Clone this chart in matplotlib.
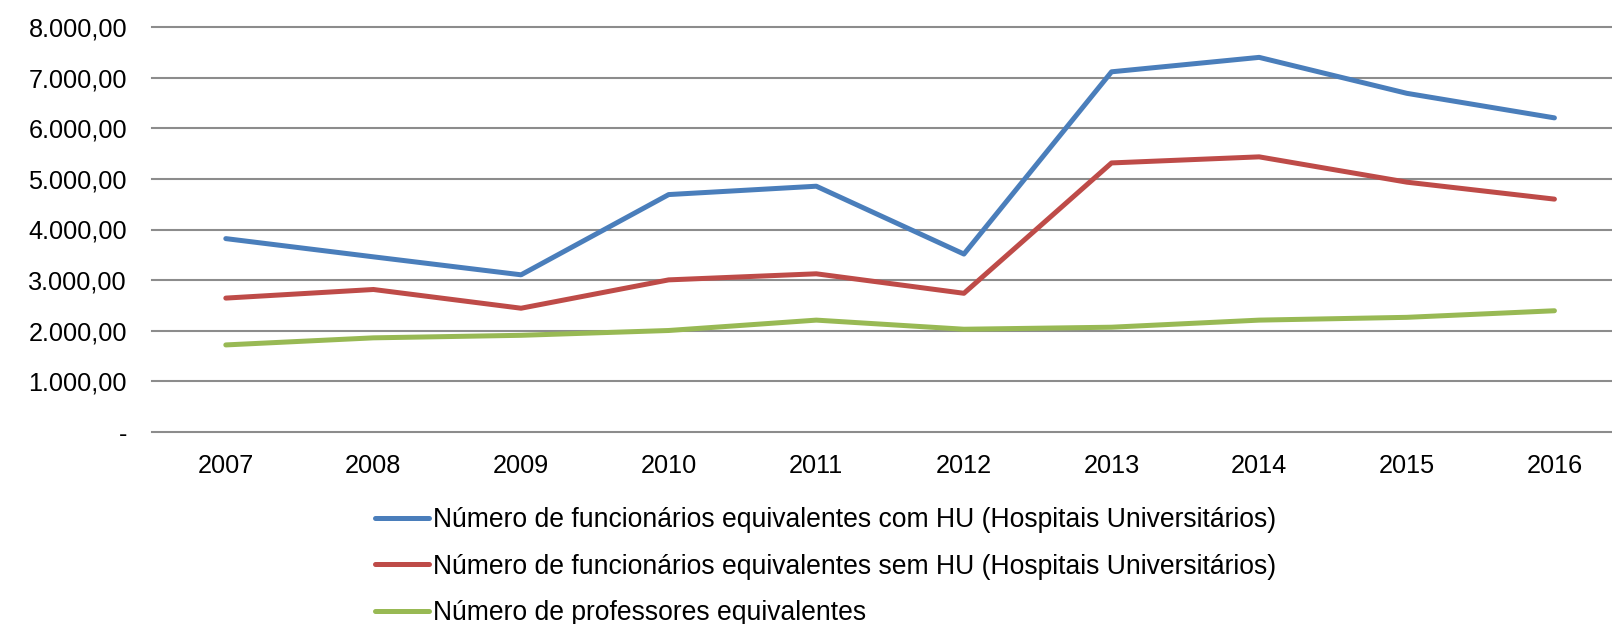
import numpy as np
import matplotlib
matplotlib.use('Agg')
import matplotlib.pyplot as plt
from matplotlib.ticker import FuncFormatter

plt.rcParams.update({'font.family': 'Liberation Sans'})

anos = ['2007', '2008', '2009', '2010', '2011', '2012', '2013', '2014', '2015', '2016']
func_com_hu = [3820, 3460, 3105, 4690, 4855, 3515, 7115, 7400, 6690, 6205]
func_sem_hu = [2645, 2815, 2445, 3005, 3125, 2740, 5315, 5435, 4935, 4600]
professores = [1720, 1860, 1910, 2005, 2210, 2030, 2070, 2210, 2265, 2395]

labels = ['Número de funcionários equivalentes com HU (Hospitais Universitários)',
          'Número de funcionários equivalentes sem HU (Hospitais Universitários)',
          'Número de professores equivalentes']
cores = ['#4A7EBB', '#BE4B48', '#98B954']


def fmt_br(v, pos):
    if v == 0:
        return '-'
    s = f'{v:,.2f}'
    return s.replace(',', 'X').replace('.', ',').replace('X', '.')


fig = plt.figure(figsize=(16.12, 6.24), dpi=100)
ax = fig.add_axes([152 / 1612, 1 - 432 / 624, (1612 - 152) / 1612, 405 / 624])

x = np.arange(len(anos))
for serie, cor, lab in zip([func_com_hu, func_sem_hu, professores], cores, labels):
    ax.plot(x, serie, color=cor, lw=3.6, label=lab, solid_capstyle='round', solid_joinstyle='round')

ax.set_xlim(-0.5, 9.39)
ax.set_ylim(0, 8000)
ax.set_yticks(np.arange(0, 8001, 1000))
ax.yaxis.set_major_formatter(FuncFormatter(fmt_br))
ax.set_xticks(x)
ax.set_xticklabels(anos)
ax.grid(axis='y', color='#8c8c8c', lw=1.5)
ax.set_axisbelow(True)
for s in ax.spines.values():
    s.set_visible(False)
ax.tick_params(axis='both', length=0, labelsize=18.2, colors='#000000')
ax.tick_params(axis='y', pad=18)
ax.tick_params(axis='x', pad=16)
for gl in ax.get_ygridlines():
    gl.set_clip_on(False)

fig.legend(loc='upper left', bbox_to_anchor=(375 / 1612, 1 - 507 / 624), frameon=False,
           fontsize=19.1, handlelength=2.05, handletextpad=0.15, labelspacing=0.78,
           borderpad=0, borderaxespad=0)

fig.savefig('out.png', dpi=100)
plt.close()
